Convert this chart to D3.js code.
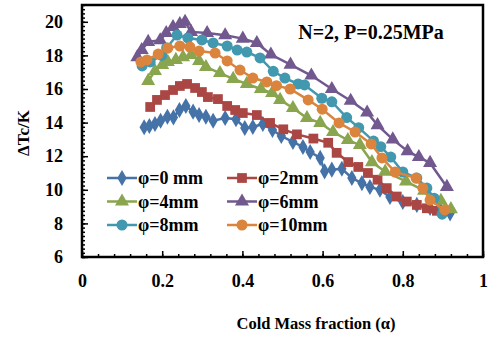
<!DOCTYPE html>
<html><head><meta charset="utf-8">
<script src="https://cdn.jsdelivr.net/npm/d3@7"></script>
<style>
body{margin:0;background:#fff;}
text{font-family:"Liberation Serif","Times New Roman",serif;font-weight:bold;fill:#000;}
</style></head>
<body><svg id="c" width="492" height="341"></svg>
<script>
const seriesNames = ["φ=0 mm","φ=2mm","φ=4mm","φ=6mm","φ=8mm","φ=10mm"];
const colors = ["#4572A7","#AA4643","#89A54E","#71588F","#4198AF","#DB843D"];
const symbols = ["diamond","square","triangle","triangle","circle","circle"];

const alpha0 = [0.155,0.168,0.182,0.196,0.213,0.228,0.243,0.259,0.277,0.292,0.309,0.327,0.357,0.384,0.406,0.426,0.451,0.475,0.497,0.526,0.551,0.569,0.594,0.605,0.623,0.648,0.673,0.698,0.718,0.743,0.768,0.80,0.835,0.868,0.893,0.918];
const dT0 = [13.72,13.8,13.92,14.11,14.35,14.31,14.75,14.99,14.65,14.45,14.35,14.11,14.27,14.2,13.68,13.74,13.92,13.56,13.2,12.85,12.55,12.25,11.9,11.1,11.2,11.25,10.7,10.4,10.17,10.0,9.57,9.27,9.1,8.92,8.8,8.6];

const alpha2 = [0.170,0.187,0.207,0.227,0.244,0.262,0.282,0.299,0.314,0.339,0.362,0.382,0.401,0.436,0.469,0.502,0.536,0.577,0.614,0.635,0.664,0.689,0.713,0.737,0.76,0.785,0.81,0.835,0.86,0.885];
const dT2 = [14.93,15.35,15.64,15.94,16.18,16.3,16.06,15.82,15.52,15.4,14.99,14.75,14.57,14.45,13.98,13.6,13.3,13.05,12.8,12.2,11.65,11.36,11.0,10.6,10.1,9.6,9.3,9.1,8.9,8.75];

const alpha4 = [0.165,0.182,0.200,0.214,0.234,0.252,0.272,0.292,0.309,0.344,0.377,0.411,0.446,0.474,0.494,0.526,0.561,0.594,0.626,0.663,0.693,0.723,0.756,0.808,0.853,0.895,0.92];
const dT4 = [16.48,17.07,17.43,17.61,17.73,17.9,18.02,17.67,17.31,16.95,16.6,16.3,16.0,15.76,15.35,14.87,14.27,13.98,13.44,12.96,12.67,11.65,11.08,10.5,9.95,9.35,8.85];

const alpha6 = [0.138,0.149,0.165,0.195,0.21,0.227,0.244,0.257,0.272,0.312,0.357,0.401,0.436,0.471,0.52,0.572,0.623,0.67,0.711,0.737,0.775,0.812,0.84,0.868,0.91];
const dT6 = [17.9,18.32,18.8,18.9,19.33,19.69,19.87,20.0,19.4,19.33,19.2,19.0,18.74,18.05,17.45,16.8,16.0,15.3,14.6,13.85,13.0,12.3,11.95,11.6,10.17];

const alpha8 = [0.150,0.170,0.199,0.211,0.237,0.264,0.299,0.327,0.362,0.387,0.411,0.444,0.477,0.506,0.539,0.555,0.598,0.623,0.66,0.69,0.727,0.745,0.77,0.80,0.835,0.86,0.878,0.898];
const dT8 = [17.37,17.61,18.0,18.44,19.21,19.04,18.92,18.74,18.56,18.32,18.2,17.85,17.05,16.65,16.3,16.24,15.45,15.24,14.3,13.7,12.9,12.57,11.95,11.06,10.7,10.1,9.5,8.55];

const alpha10 = [0.147,0.162,0.190,0.214,0.244,0.269,0.292,0.332,0.362,0.394,0.426,0.461,0.485,0.519,0.564,0.599,0.641,0.681,0.721,0.748,0.781,0.833,0.850,0.868,0.905];
const dT10 = [17.61,17.73,18.08,18.44,18.56,18.5,18.26,18.14,17.67,17.13,16.65,16.42,16.2,16.0,15.35,14.8,13.98,13.44,12.73,11.9,11.06,10.7,10.1,9.39,8.8];

const xTicks = [0,0.2,0.4,0.6,0.8,1];
const xTickLabels = ["0","0.2","0.4","0.6","0.8","1"];
const yTicks = [6,8,10,12,14,16,18,20];
const titleText = "N=2, P=0.25MPa";
const xTitle = "Cold Mass fraction (α)";
const yTitle = "ΔTc/K";

const allX = [alpha0,alpha2,alpha4,alpha6,alpha8,alpha10];
const allY = [dT0,dT2,dT4,dT6,dT8,dT10];

const L=82, T=5, W=401, H=252;
const svg = d3.select("#c");
const x = d3.scaleLinear().domain([0,1]).range([L,L+W]);
const y = d3.scaleLinear().domain([6,21]).range([T+H,T]);

// minor ticks
svg.append("g").attr("transform",`translate(0,${T+H})`)
  .call(d3.axisBottom(x).tickValues(d3.range(0,1.0001,0.04)).tickFormat("").tickSizeInner(-3).tickSizeOuter(0))
  .call(g=>g.select(".domain").remove())
  .selectAll("line").attr("stroke","#000").attr("stroke-width",1.5);
svg.append("g").attr("transform",`translate(${L},0)`)
  .call(d3.axisLeft(y).tickValues(d3.range(6,21.001,0.25)).tickFormat("").tickSizeInner(-3).tickSizeOuter(0))
  .call(g=>g.select(".domain").remove())
  .selectAll("line").attr("stroke","#000").attr("stroke-width",1.5);

// major axes
const xa = svg.append("g").attr("transform",`translate(0,${T+H})`)
  .call(d3.axisBottom(x).tickValues(xTicks).tickFormat((d,i)=>xTickLabels[i]).tickSizeInner(-6).tickSizeOuter(0).tickPadding(17));
xa.select(".domain").remove();
xa.selectAll("line").attr("stroke","#000").attr("stroke-width",1.5);
xa.selectAll("text").style("font-size","18px").style("font-family","'Liberation Serif',serif").style("font-weight","bold");

const ya = svg.append("g").attr("transform",`translate(${L},0)`)
  .call(d3.axisLeft(y).tickValues(yTicks).tickFormat(d3.format("d")).tickSizeInner(-6).tickSizeOuter(0).tickPadding(19));
ya.select(".domain").remove();
ya.selectAll("line").attr("stroke","#000").attr("stroke-width",1.5);
ya.selectAll("text").style("font-size","18px").style("font-family","'Liberation Serif',serif").style("font-weight","bold");

// frame
svg.append("rect").attr("x",L).attr("y",T).attr("width",W).attr("height",H)
  .attr("fill","none").attr("stroke","#000").attr("stroke-width",2.5);

function symPath(kind, size){
  const t = {diamond:d3.symbolDiamond, square:d3.symbolSquare, triangle:d3.symbolTriangle, circle:d3.symbolCircle}[kind];
  return d3.symbol().type(t).size(size)();
}
const symSize = {diamond:75, square:95, triangle:85, circle:95};

const line = d3.line().x(d=>x(d[0])).y(d=>y(d[1]));
allX.forEach((xs,i)=>{
  const pts = xs.map((v,j)=>[v,allY[i][j]]);
  const g = svg.append("g");
  g.append("path").attr("d",line(pts)).attr("fill","none").attr("stroke",colors[i]).attr("stroke-width",2.5);
  g.selectAll("path.m").data(pts).join("path").attr("class","m")
    .attr("d",symPath(symbols[i],symSize[symbols[i]]))
    .attr("transform",d=>`translate(${x(d[0])},${y(d[1])})`)
    .attr("fill",colors[i]);
});

// legend
const legX = [107,227], legY = [178,201.5,225];
seriesNames.forEach((name,i)=>{
  const cx = legX[i%2], cy = legY[Math.floor(i/2)];
  const g = svg.append("g");
  g.append("line").attr("x1",cx).attr("x2",cx+30).attr("y1",cy).attr("y2",cy).attr("stroke",colors[i]).attr("stroke-width",2.5);
  g.append("path").attr("d",symPath(symbols[i],symSize[symbols[i]])).attr("transform",`translate(${cx+15},${cy})`).attr("fill",colors[i]);
  g.append("text").attr("x",cx+31).attr("y",cy).attr("dy","0.35em").style("font-size","18px").text(name);
});

svg.append("text").attr("x",371).attr("y",32).attr("dy","0.35em").attr("text-anchor","middle").style("font-size","20px").text(titleText);
svg.append("text").attr("x",316).attr("y",323).attr("dy","0.35em").attr("text-anchor","middle").style("font-size","16.5px").text(xTitle);
svg.append("text").attr("transform","translate(23,133) rotate(-90)").attr("dy","0.35em").attr("text-anchor","middle").style("font-size","17px").text(yTitle);
</script></body></html>
